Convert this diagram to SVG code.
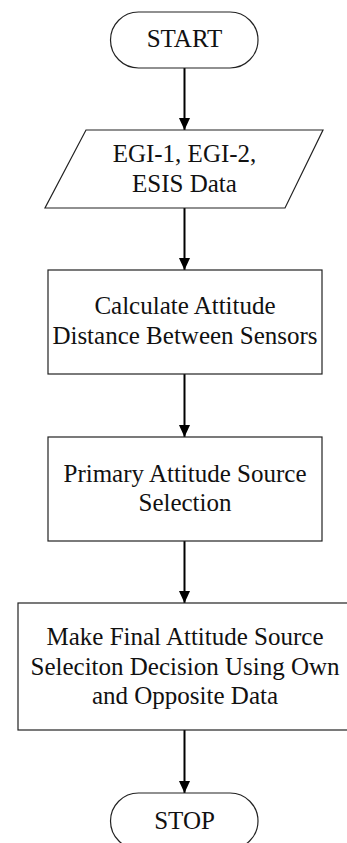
<svg xmlns="http://www.w3.org/2000/svg" width="347" height="843" viewBox="0 0 347 843">
<style>
.shape{fill:#fff;stroke:#222;stroke-width:1.2}
.lbl{font-family:'Liberation Serif','Times New Roman',serif;font-size:25px;fill:#111;text-anchor:middle}
.conn{stroke:#000;stroke-width:2;fill:none;marker-end:url(#arrow)}
</style>
<defs>
<marker id="arrow" markerUnits="userSpaceOnUse" markerWidth="12" markerHeight="13" refX="13" refY="6" orient="auto" viewBox="0 0 13 12">
<path d="M0,0 L13,6 L0,12 z" fill="#000"/>
</marker>
</defs>
<rect width="347" height="843" fill="#fff"/>
<g id="connectors">
<line class="conn" x1="184.5" y1="68" x2="184.5" y2="130"/>
<line class="conn" x1="184.5" y1="208" x2="184.5" y2="270"/>
<line class="conn" x1="184.5" y1="374" x2="184.5" y2="437"/>
<line class="conn" x1="184.5" y1="541" x2="184.5" y2="603"/>
<line class="conn" x1="184.5" y1="730" x2="184.5" y2="793"/>
</g>
<g id="start">
<rect class="shape" x="110.5" y="12" width="147.5" height="56" rx="28" ry="28"/>
<text class="lbl" x="184.5" y="47">START</text>
</g>
<g id="input">
<polygon class="shape" points="86,130 323,130 285,208 45,208"/>
<text class="lbl" x="184.5" y="162">EGI-1, EGI-2,</text>
<text class="lbl" x="184.5" y="192">ESIS Data</text>
</g>
<g id="calc">
<rect class="shape" x="48" y="270" width="274" height="104"/>
<text class="lbl" x="185" y="314">Calculate Attitude</text>
<text class="lbl" x="185" y="344">Distance Between Sensors</text>
</g>
<g id="primary">
<rect class="shape" x="48" y="437" width="274" height="104"/>
<text class="lbl" x="185" y="482">Primary Attitude Source</text>
<text class="lbl" x="185" y="511">Selection</text>
</g>
<g id="final">
<rect class="shape" x="18" y="603" width="334" height="127"/>
<text class="lbl" x="185" y="645">Make Final Attitude Source</text>
<text class="lbl" x="185" y="675">Seleciton Decision Using Own</text>
<text class="lbl" x="185" y="704">and Opposite Data</text>
</g>
<g id="stop">
<rect class="shape" x="110.5" y="793" width="147.5" height="56" rx="28" ry="28"/>
<text class="lbl" x="184.5" y="829">STOP</text>
</g>
</svg>
